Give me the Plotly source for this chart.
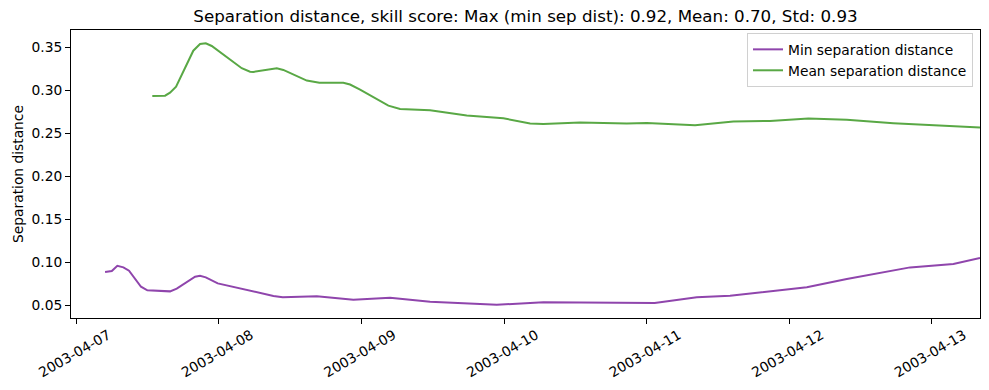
import plotly.graph_objects as go

# ---- data ----
min_times = [
    "2003-04-07 04:50", "2003-04-07 05:58", "2003-04-07 06:54", "2003-04-07 07:55",
    "2003-04-07 08:52", "2003-04-07 10:53", "2003-04-07 11:57", "2003-04-07 15:46",
    "2003-04-07 16:54", "2003-04-07 19:59", "2003-04-07 20:49", "2003-04-07 21:47",
    "2003-04-07 23:48", "2003-04-08 04:06", "2003-04-08 09:10", "2003-04-08 10:44",
    "2003-04-08 16:28", "2003-04-08 22:37", "2003-04-09 04:48", "2003-04-09 11:32",
    "2003-04-09 22:45", "2003-04-10 06:36", "2003-04-11 01:20", "2003-04-11 08:25",
    "2003-04-11 14:01", "2003-04-12 02:56", "2003-04-12 09:40", "2003-04-12 20:19",
    "2003-04-13 03:36", "2003-04-13 08:05",
]
min_values = [
    0.0884, 0.0895, 0.0957, 0.0938,
    0.0899, 0.0713, 0.0671, 0.0659,
    0.0690, 0.0830, 0.0841, 0.0822,
    0.0752, 0.0682, 0.0605, 0.0590,
    0.0601, 0.0562, 0.0585, 0.0538,
    0.0503, 0.0531, 0.0525, 0.0590,
    0.0608, 0.0706, 0.0802, 0.0938,
    0.0977, 0.1047,
]

mean_times = [
    "2003-04-07 12:47", "2003-04-07 14:56", "2003-04-07 15:46", "2003-04-07 16:47",
    "2003-04-07 19:41", "2003-04-07 20:49", "2003-04-07 21:47", "2003-04-07 22:47",
    "2003-04-08 03:50", "2003-04-08 05:14", "2003-04-08 05:47", "2003-04-08 09:44",
    "2003-04-08 10:50", "2003-04-08 14:47", "2003-04-08 16:54", "2003-04-08 20:56",
    "2003-04-08 22:04", "2003-04-08 23:45", "2003-04-09 04:31", "2003-04-09 06:29",
    "2003-04-09 11:32", "2003-04-09 17:42", "2003-04-09 23:52", "2003-04-10 04:22",
    "2003-04-10 06:36", "2003-04-10 12:46", "2003-04-10 20:38", "2003-04-11 00:00",
    "2003-04-11 08:08", "2003-04-11 14:34", "2003-04-11 20:45", "2003-04-12 03:12",
    "2003-04-12 09:40", "2003-04-12 17:30", "2003-04-13 08:05",
]
mean_values = [
    0.2934, 0.2937, 0.2972, 0.3042,
    0.3460, 0.3538, 0.3546, 0.3515,
    0.3256, 0.3216, 0.3213, 0.3256,
    0.3236, 0.3112, 0.3088, 0.3088,
    0.3066, 0.3007, 0.2821, 0.2782,
    0.2767, 0.2705, 0.2674, 0.2612,
    0.2608, 0.2623, 0.2612, 0.2620,
    0.2593, 0.2635, 0.2643, 0.2670,
    0.2655, 0.2616, 0.2565,
]

title_text = "Separation distance, skill score: Max (min sep dist): 0.92, Mean: 0.70, Std: 0.93"
y_label = "Separation distance"
series_names = ["Min separation distance", "Mean separation distance"]
series_colors = ["#8f45ac", "#59a845"]

FONT = "DejaVu Sans"
TICK_SIZE = 13.8

fig = go.Figure()
fig.add_trace(go.Scatter(x=min_times, y=min_values, mode="lines", name=series_names[0],
                         line=dict(color=series_colors[0], width=2)))
fig.add_trace(go.Scatter(x=mean_times, y=mean_values, mode="lines", name=series_names[1],
                         line=dict(color=series_colors[1], width=2)))

fig.update_layout(
    width=989, height=390,
    margin=dict(l=71, r=9, t=30, b=72, autoexpand=False),
    paper_bgcolor="white", plot_bgcolor="white",
    font=dict(family=FONT, size=TICK_SIZE, color="black"),
    title=dict(text=title_text, x=0.5, xanchor="center", xref="paper",
               y=1 - 16 / 390, yanchor="middle", yref="container",
               font=dict(family=FONT, size=16.7, color="black")),
    showlegend=True,
    legend=dict(x=0.9923, y=0.99, xanchor="right", yanchor="top",
                bgcolor="rgba(255,255,255,0.8)", bordercolor="#d0d0d0", borderwidth=1,
                font=dict(family=FONT, size=TICK_SIZE), tracegroupgap=0,
                itemwidth=30),
)
fig.update_xaxes(
    type="date", automargin=False,
    range=["2003-04-06 23:06", "2003-04-13 08:05"],
    dtick=86400000, tick0="2003-04-07", tickformat="%Y-%m-%d",
    tickangle=-30, ticks="outside", ticklen=5, tickcolor="black",
    ticklabelshift=32, ticklabelstandoff=-2,
    showline=True, linecolor="black", linewidth=1, mirror=True,
    showgrid=False, zeroline=False,
    tickfont=dict(family=FONT, size=TICK_SIZE),
)
fig.update_yaxes(
    automargin=False,
    range=[0.0349, 0.3701],
    dtick=0.05, tick0=0.05, tickformat=".2f",
    ticks="outside", ticklen=5, tickcolor="black",
    showline=True, linecolor="black", linewidth=1, mirror=True,
    showgrid=False, zeroline=False,
    title=dict(text=y_label, font=dict(family=FONT, size=TICK_SIZE), standoff=4),
    tickfont=dict(family=FONT, size=TICK_SIZE),
)

fig.write_html("out.html")
